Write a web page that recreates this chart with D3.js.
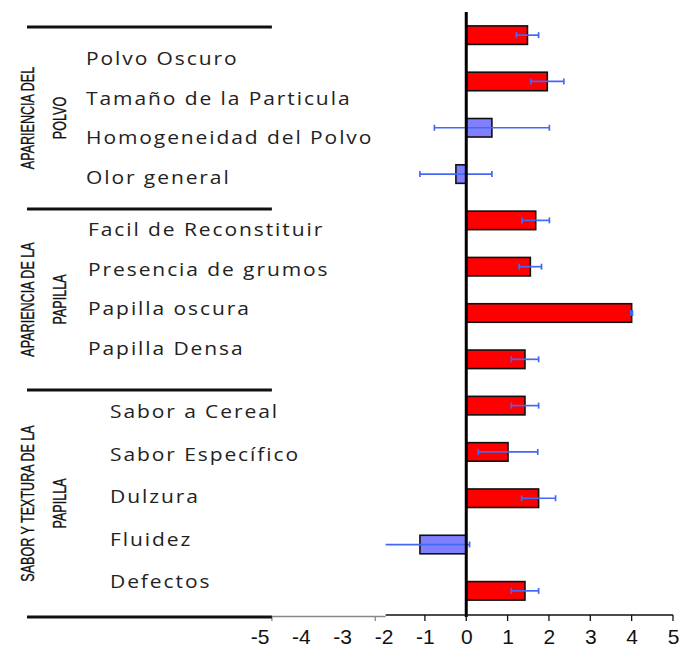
<!DOCTYPE html>
<html lang="es">
<head>
<meta charset="UTF-8">
<title>Perfil sensorial</title>
<script src="https://d3js.org/d3.v7.min.js"></script>
<style>
    body { margin: 0; padding: 0; background: #fff; }
    svg { display: block; }
    .cat { font-family: 'Open Sans', sans-serif; font-size: 17.5px; fill: #222; letter-spacing: 1.6px; }
    .grp { font-family: 'Liberation Sans', Arial, sans-serif; font-size: 18.5px; fill: #111; stroke: #111; stroke-width: 0.35px; }
    .tick text { font-family: 'Liberation Sans', Arial, sans-serif; font-size: 21px; fill: #111; }
</style>
</head>
<body>
<svg id="chart" width="681" height="652"></svg>
<script>
    // Data
    const categories = [
        "Polvo Oscuro", "Tamaño de la Particula", "Homogeneidad del Polvo", "Olor general",
        "Facil de Reconstituir", "Presencia de grumos", "Papilla oscura", "Papilla Densa",
        "Sabor a Cereal", "Sabor Específico", "Dulzura", "Fluidez", "Defectos"
    ];
    const groupOf = [0, 0, 0, 0, 1, 1, 1, 1, 2, 2, 2, 2, 2];
    const groupTitles = [
        ["APARIENCIA DEL", "POLVO"],
        ["APARIENCIA DE LA", "PAPILLA"],
        ["SABOR Y TEXTURA DE LA", "PAPILLA"]
    ];
    const values = [1.48, 1.96, 0.62, -0.25, 1.68, 1.55, 4.0, 1.42, 1.42, 1.01, 1.75, -1.12, 1.42];
    const errors = [0.27, 0.40, 1.39, 0.87, 0.33, 0.27, 0.02, 0.33, 0.33, 0.72, 0.41, 1.20, 0.33];
    const highlight = [true, true, false, false, true, true, true, true, true, true, true, false, true];
    const tickValues = [-5, -4, -3, -2, -1, 0, 1, 2, 3, 4, 5];

    // Layout
    const sepY = [27, 209, 390, 617];
    const labelRanges = [[59, 178], [230, 349], [412, 582]];
    const labelX = [86, 88, 110];
    const axisY = 615;

    const svg = d3.select("#chart");

    const x = d3.scaleLinear().domain([-5, 5]).range([259.5, 673]);
    const y = d3.scaleBand()
        .domain(categories)
        .range([12, 614])
        .paddingInner(0.6)
        .paddingOuter(0.3);

    const color = d => d ? "#ff0000" : "#8080ff";

    // clip: plotted region starts just left of -2
    svg.append("clipPath").attr("id", "plotClip")
        .append("rect")
        .attr("x", x(-1.95)).attr("y", 0)
        .attr("width", x(5) - x(-1.95) + 10).attr("height", axisY);

    const rows = categories.map((c, i) => ({ c, v: values[i], e: errors[i], h: highlight[i] }));

    const plot = svg.append("g").attr("clip-path", "url(#plotClip)");

    // Bars
    plot.selectAll(".bar")
        .data(rows)
        .enter().append("rect")
        .attr("class", "bar")
        .attr("x", d => x(Math.min(0, d.v)))
        .attr("y", d => y(d.c))
        .attr("width", d => Math.abs(x(d.v) - x(0)))
        .attr("height", y.bandwidth())
        .attr("fill", d => color(d.h))
        .attr("stroke", "#111")
        .attr("stroke-width", 1.6);

    // Error bars
    const err = plot.selectAll(".err")
        .data(rows)
        .enter().append("g")
        .attr("class", "err")
        .attr("stroke", "#4468f6")
        .attr("stroke-width", 1.7);

    err.append("line")
        .attr("x1", d => x(d.v - d.e))
        .attr("x2", d => x(d.v + d.e))
        .attr("y1", d => y(d.c) + y.bandwidth() / 2)
        .attr("y2", d => y(d.c) + y.bandwidth() / 2);

    [-1, 1].forEach(s => {
        err.append("line")
            .attr("x1", d => x(d.v + s * d.e))
            .attr("x2", d => x(d.v + s * d.e))
            .attr("y1", d => y(d.c) + y.bandwidth() / 2 - 3)
            .attr("y2", d => y(d.c) + y.bandwidth() / 2 + 3);
    });

    // Zero line
    svg.append("line")
        .attr("x1", x(0)).attr("x2", x(0))
        .attr("y1", 12).attr("y2", sepY[3])
        .attr("stroke", "#000")
        .attr("stroke-width", 3);

    // Bottom axis
    const axis = svg.append("g")
        .attr("transform", `translate(0,${axisY})`)
        .call(d3.axisBottom(x).tickValues(tickValues).tickSize(0).tickPadding(14).tickFormat(d => String(d)));
    axis.select(".domain").remove();

    axis.append("line")
        .attr("x1", x(-1.95)).attr("x2", x(5))
        .attr("stroke", "#111").attr("stroke-width", 1.3);
    axis.selectAll(".tickmark")
        .data(tickValues.filter(t => t >= -1))
        .enter().append("line")
        .attr("x1", d => x(d)).attr("x2", d => x(d))
        .attr("y1", 0).attr("y2", 6)
        .attr("stroke", "#111").attr("stroke-width", 1.3);

    // faint leftover axis segment under the negative labels
    svg.append("line")
        .attr("x1", x(-4.7)).attr("x2", x(-1.95))
        .attr("y1", axisY + 1.5).attr("y2", axisY + 1.5)
        .attr("stroke", "#888").attr("stroke-width", 1.3);
    svg.selectAll(".ghostTick")
        .data([-4.7, -2.2])
        .enter().append("line")
        .attr("x1", d => x(d)).attr("x2", d => x(d))
        .attr("y1", axisY + 1.5).attr("y2", axisY + 6)
        .attr("stroke", "#888").attr("stroke-width", 1.3);

    // Group separators
    svg.selectAll(".sep")
        .data(sepY)
        .enter().append("line")
        .attr("x1", 27).attr("x2", x(-4.7))
        .attr("y1", d => d).attr("y2", d => d)
        .attr("stroke", "#111")
        .attr("stroke-width", 3);

    // Category labels and group titles
    groupTitles.forEach((t, g) => {
        const cats = categories.filter((c, i) => groupOf[i] === g);
        const ly = d3.scalePoint().domain(cats).range(labelRanges[g]);

        svg.selectAll(`.cat-g${g}`)
            .data(cats)
            .enter().append("text")
            .attr("class", `cat cat-g${g}`)
            .attr("transform", d => `translate(${labelX[g]},${ly(d)}) scale(1.2,1)`)
            .attr("dy", "0.35em")
            .text(d => d);

        const cy = (sepY[g] + sepY[g + 1]) / 2;
        t.forEach((line, k) => {
            const cx = k === 0 ? 28 : 60;
            svg.append("text")
                .attr("class", "grp")
                .attr("text-anchor", "middle")
                .attr("dominant-baseline", "central")
                .attr("transform", `translate(${cx},${cy}) rotate(-90) scale(0.68,1)`)
                .text(line);
        });
    });
</script>
</body>
</html>
